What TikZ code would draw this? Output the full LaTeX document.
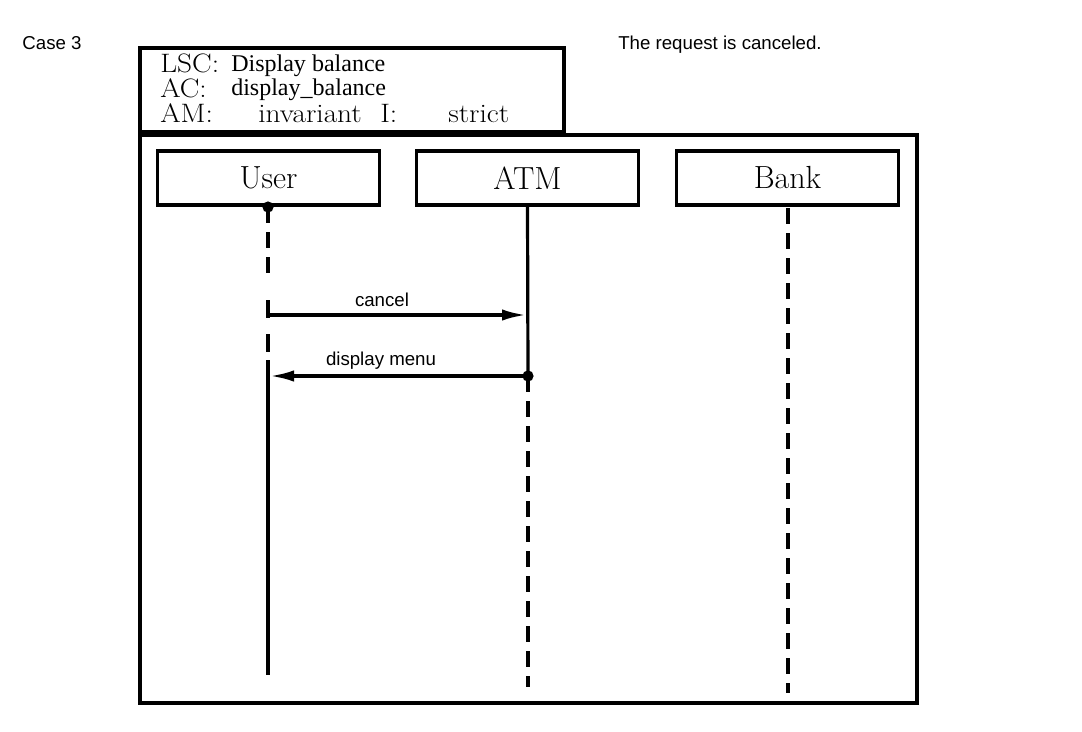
\documentclass[tikz,border=0pt]{standalone}
\usepackage{fontspec}
\usetikzlibrary{arrows.meta}
\newfontfamily\arialfont{Liberation Sans}
\newfontfamily\timesfont{Liberation Serif}
\newcommand\LifeBox[3]{%
    \node[lifebox] (#1) at (#2,178) {#3};
    \coordinate (#1Top) at (#2,205);
}

\begin{document}
\begin{tikzpicture}[x=0.75pt,y=-0.75pt,
    lifebox/.style={draw,line width=2.3pt,minimum width=167pt,minimum height=40.5pt,inner sep=0pt,font=\fontsize{24}{27}\selectfont},
    life/.style={line width=2.4pt},
    lifedash/.style={life,dash pattern=on 12pt off 6.75pt},
    msg/.style={line width=2.4pt,-{Latex[length=18pt,width=8.5pt]}},
    sans/.style={font=\arialfont\fontsize{14}{16}\selectfont,inner sep=0pt},
    head/.style={anchor=base west,inner sep=0pt,xscale=1.1,font=\fontsize{20}{22}\selectfont},
    headname/.style={head,xscale=0.91,font=\timesfont\fontsize{18}{20}\selectfont}]
    \useasboundingbox (0,0) rectangle (1082,732);
    \node[sans] (case) at (52,43) {Case 3};
    \node[sans] (note) at (720,45) {The request is canceled.};
    % header
    \draw[line width=3pt] (140,48) rectangle (564,132);
    \node[head] (lsc) at (160,72) {LSC:};
    \node[headname] (lscname) at (231,71.5) {Display balance};
    \node[head] (ac) at (160,97) {AC:};
    \node[headname] (acname) at (231,95.5) {display\_balance};
    \node[head] (am) at (160,122) {AM:};
    \node[head] (amval) at (258,122) {invariant};
    \node[head] (inst) at (380,122) {I:};
    \node[head] (instval) at (448,122) {strict};
    % chart frame
    \draw[line width=3pt] (140,135) rectangle (917,703);
    \LifeBox{user}{268.5}{User}
    \LifeBox{atm}{527.5}{ATM}
    \LifeBox{bank}{787.5}{Bank}
    \coordinate (userDot) at (268,207);
    \coordinate (userEnd) at (268,675);
    \coordinate (atmDot) at (528,376);
    \coordinate (atmEnd) at (528,687);
    \coordinate (bankEnd) at (788,693);
    \begin{scope} % User
        \fill (userDot) circle (4.2pt);
        \draw[lifedash] (userDot) -- (268,275);
        \draw[life] (268,300) -- (268,318);
        \draw[life] (268,334) -- (268,352);
        \draw[life] (268,360) -- (userEnd);
    \end{scope}
    \begin{scope} % ATM
        \draw[life] (atm.south) -- (atmDot);
        \fill (atmDot) circle (4.2pt);
        \draw[lifedash] (atmDot) -- (atmEnd);
    \end{scope}
    \begin{scope} % Bank
        \draw[lifedash] (788,208) -- (bankEnd);
    \end{scope}
    % messages
    \coordinate (cancelFrom) at (268,315);
    \coordinate (cancelTo) at (526,315);
    \coordinate (menuTo) at (270,376);
    \draw[msg] (cancelFrom) -- (cancelTo);
    \node[sans] (cancel) at (382,300) {cancel};
    \draw[msg] (atmDot) -- (menuTo);
    \node[sans] (menu) at (381,361) {display menu};
\end{tikzpicture}
\end{document}
